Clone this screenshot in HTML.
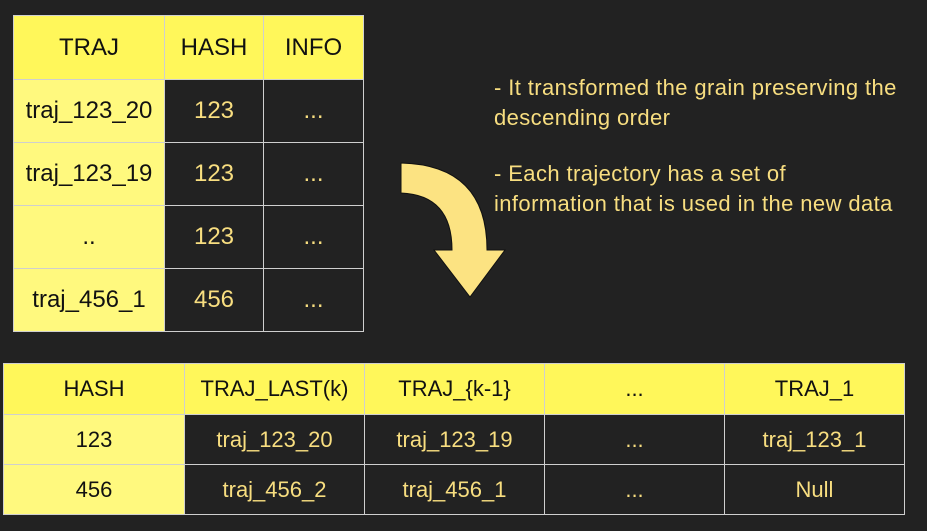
<!DOCTYPE html>
<html><head><style>
body{margin:0;width:927px;height:531px;background:#222222;position:relative;overflow:hidden;font-family:"Liberation Sans",sans-serif}
.c{position:absolute;display:flex;align-items:center;justify-content:center;box-sizing:border-box;border:1px solid #cfcfcf;font-size:24px}
.b .c{font-size:22px}
.h{background:#fff75a;color:#111}
.y{background:#fff97e;color:#111}
.d{background:#222;color:#f8de80}
.t{position:absolute;color:#f8de80;font-size:22px;letter-spacing:0.4px;line-height:30px;left:494px}
</style></head><body>
<!-- top table -->
<div class="c h" style="left:13px;top:15px;width:152px;height:65px">TRAJ</div>
<div class="c h" style="left:164px;top:15px;width:100px;height:65px">HASH</div>
<div class="c h" style="left:263px;top:15px;width:101px;height:65px">INFO</div>
<div class="c y" style="left:13px;top:79px;width:152px;height:64px">traj_123_20</div>
<div class="c d" style="left:164px;top:79px;width:100px;height:64px">123</div>
<div class="c d" style="left:263px;top:79px;width:101px;height:64px">...</div>
<div class="c y" style="left:13px;top:142px;width:152px;height:64px">traj_123_19</div>
<div class="c d" style="left:164px;top:142px;width:100px;height:64px">123</div>
<div class="c d" style="left:263px;top:142px;width:101px;height:64px">...</div>
<div class="c y" style="left:13px;top:205px;width:152px;height:64px">..</div>
<div class="c d" style="left:164px;top:205px;width:100px;height:64px">123</div>
<div class="c d" style="left:263px;top:205px;width:101px;height:64px">...</div>
<div class="c y" style="left:13px;top:268px;width:152px;height:64px">traj_456_1</div>
<div class="c d" style="left:164px;top:268px;width:100px;height:64px">456</div>
<div class="c d" style="left:263px;top:268px;width:101px;height:64px">...</div>
<!-- arrow -->
<svg style="position:absolute;left:0;top:0" width="927" height="531">
<path d="M401,163 Q487,165 487,250 L505,250 L470,297 L434,250 L452,250 Q452,195 401,193 Z" fill="#fce382" stroke="#111" stroke-width="1"/>
</svg>
<div class="t" style="top:73px">- It transformed the grain preserving the<br>descending order</div>
<div class="t" style="top:159px">- Each trajectory has a set of<br>information that is used in the new data</div>
<!-- bottom table -->
<div class="b">
<div class="c h" style="left:3px;top:363px;width:182px;height:52px">HASH</div>
<div class="c h" style="left:184px;top:363px;width:181px;height:52px">TRAJ_LAST(k)</div>
<div class="c h" style="left:364px;top:363px;width:181px;height:52px">TRAJ_{k-1}</div>
<div class="c h" style="left:544px;top:363px;width:181px;height:52px">...</div>
<div class="c h" style="left:724px;top:363px;width:181px;height:52px">TRAJ_1</div>
<div class="c y" style="left:3px;top:414px;width:182px;height:51px">123</div>
<div class="c d" style="left:184px;top:414px;width:181px;height:51px">traj_123_20</div>
<div class="c d" style="left:364px;top:414px;width:181px;height:51px">traj_123_19</div>
<div class="c d" style="left:544px;top:414px;width:181px;height:51px">...</div>
<div class="c d" style="left:724px;top:414px;width:181px;height:51px">traj_123_1</div>
<div class="c y" style="left:3px;top:464px;width:182px;height:51px">456</div>
<div class="c d" style="left:184px;top:464px;width:181px;height:51px">traj_456_2</div>
<div class="c d" style="left:364px;top:464px;width:181px;height:51px">traj_456_1</div>
<div class="c d" style="left:544px;top:464px;width:181px;height:51px">...</div>
<div class="c d" style="left:724px;top:464px;width:181px;height:51px">Null</div>
</div>
</body></html>
